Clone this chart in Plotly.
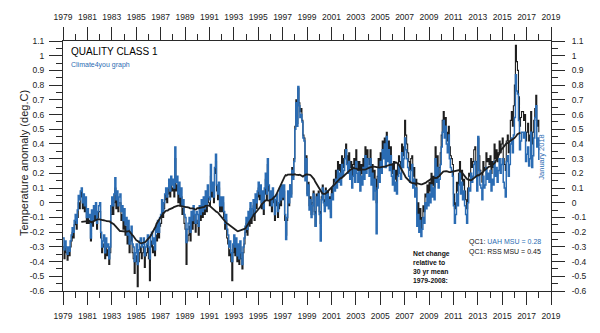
import plotly.graph_objects as go
import pandas as pd

# ---------------- data (monthly anomalies, deg C, rel. 1979-2008) ----------------
start_year = 1979

uah_values = [
    -0.24, -0.32, -0.26, -0.30, -0.35, -0.30, -0.33, -0.26, -0.22, -0.17, -0.20, -0.12,  # 1979
    -0.08, -0.14, -0.05, 0.05, 0.02, 0.08, 0.10, 0.00, 0.06, -0.02, 0.04, -0.10,          # 1980
    -0.04, -0.10, -0.08, -0.24, -0.05, -0.12, -0.02, -0.08, 0.00, -0.14, -0.06, -0.02,    # 1981
    0.00, -0.20, -0.30, -0.26, -0.22, -0.34, -0.24, -0.30, -0.28, -0.38, -0.30, -0.02,    # 1982
    0.04, -0.02, 0.06, 0.17, 0.02, 0.08, -0.02, 0.04, 0.06, -0.06, -0.02, -0.12,          # 1983
    -0.04, -0.15, -0.10, -0.22, -0.12, -0.28, -0.20, -0.16, -0.28, -0.30, -0.40, -0.34,   # 1984
    -0.28, -0.42, -0.32, -0.26, -0.24, -0.30, -0.28, -0.24, -0.36, -0.30, -0.28, -0.22,   # 1985
    -0.30, -0.38, -0.22, -0.20, -0.28, -0.24, -0.32, -0.16, -0.20, -0.12, -0.20, -0.10,   # 1986
    -0.08, 0.02, -0.06, 0.00, 0.06, 0.10, 0.04, 0.10, 0.16, 0.08, 0.18, 0.12,             # 1987
    0.16, 0.10, 0.38, 0.14, 0.18, 0.06, 0.14, 0.04, 0.10, -0.02, 0.02, -0.08,             # 1988
    -0.10, -0.27, -0.18, -0.14, -0.10, -0.20, -0.06, -0.12, -0.02, -0.08, -0.14, -0.06,   # 1989
    -0.08, -0.16, -0.02, -0.08, 0.02, -0.06, 0.04, -0.04, 0.08, -0.02, 0.12, 0.04,        # 1990
    0.02, 0.26, 0.08, 0.14, 0.04, 0.24, 0.33, 0.12, 0.06, 0.14, -0.02, 0.04,              # 1991
    -0.02, 0.04, -0.06, -0.14, -0.08, -0.18, -0.22, -0.30, -0.26, -0.34, -0.40, -0.28,    # 1992
    -0.22, -0.30, -0.24, -0.36, -0.28, -0.38, -0.26, -0.34, -0.42, -0.30, -0.24, -0.16,   # 1993
    -0.10, -0.18, -0.06, -0.12, 0.00, -0.10, -0.04, 0.02, -0.08, 0.06, 0.00, 0.08,        # 1994
    0.14, 0.06, 0.12, 0.00, 0.08, -0.04, 0.10, 0.20, 0.06, 0.30, 0.12, 0.02,              # 1995
    0.08, -0.02, 0.10, 0.04, -0.08, 0.02, 0.06, -0.06, 0.00, 0.10, 0.02, 0.12,            # 1996
    0.04, 0.12, -0.08, -0.25, -0.10, 0.08, 0.00, 0.12, 0.04, 0.22, 0.16, 0.28,            # 1997
    0.50, 0.68, 0.52, 0.79, 0.66, 0.58, 0.60, 0.55, 0.44, 0.42, 0.15, 0.30,               # 1998
    0.05, 0.12, -0.05, 0.02, -0.10, -0.02, 0.06, -0.08, -0.16, 0.04, -0.02, 0.06,         # 1999
    -0.08, -0.26, 0.02, 0.10, 0.00, -0.06, 0.08, -0.02, 0.06, -0.04, 0.02, -0.10,         # 2000
    0.06, 0.02, 0.12, 0.08, 0.16, 0.10, 0.22, 0.14, 0.20, 0.12, 0.26, 0.18,               # 2001
    0.22, 0.30, 0.36, 0.26, 0.20, 0.28, 0.16, 0.22, 0.10, 0.18, 0.24, 0.14,               # 2002
    0.28, 0.20, 0.14, 0.22, 0.08, 0.18, 0.12, 0.24, 0.16, 0.32, 0.20, 0.30,               # 2003
    0.24, 0.18, 0.30, 0.12, 0.20, 0.02, 0.16, 0.08, -0.21, 0.10, 0.24, 0.14,              # 2004
    0.28, 0.20, 0.36, 0.30, 0.40, 0.24, 0.45, 0.28, 0.36, 0.22, 0.32, 0.18,               # 2005
    0.12, 0.22, 0.08, 0.14, 0.06, 0.18, 0.26, 0.20, 0.16, 0.34, 0.24, 0.30,               # 2006
    0.44, 0.36, 0.30, 0.24, 0.18, 0.14, 0.22, 0.26, 0.10, 0.16, 0.04, 0.10,               # 2007
    -0.16, -0.08, -0.20, -0.12, -0.23, -0.18, -0.10, -0.14, 0.00, -0.04, 0.06, -0.02,     # 2008
    0.06, 0.00, 0.12, 0.04, 0.10, 0.02, 0.30, 0.14, 0.24, 0.10, 0.16, 0.26,               # 2009
    0.38, 0.48, 0.56, 0.44, 0.52, 0.40, 0.34, 0.46, 0.30, 0.24, 0.22, 0.18,               # 2010
    -0.02, -0.14, -0.08, 0.06, -0.02, 0.12, 0.20, 0.06, 0.14, 0.02, 0.08, -0.02,          # 2011
    -0.08, -0.14, 0.00, 0.10, 0.08, 0.20, 0.14, 0.18, 0.26, 0.28, 0.18, 0.08,             # 2012
    0.45, 0.22, 0.12, 0.10, 0.02, 0.18, 0.10, 0.12, 0.24, 0.16, 0.20, 0.14,               # 2013
    0.22, 0.08, 0.16, 0.12, 0.28, 0.18, 0.24, 0.14, 0.22, 0.30, 0.20, 0.26,               # 2014
    0.30, 0.14, 0.10, 0.04, 0.28, 0.32, 0.18, 0.26, 0.40, 0.44, 0.34, 0.46,               # 2015
    0.58, 0.87, 0.76, 0.74, 0.56, 0.36, 0.42, 0.48, 0.48, 0.44, 0.48, 0.28,               # 2016
    0.33, 0.38, 0.25, 0.30, 0.48, 0.24, 0.32, 0.44, 0.58, 0.66, 0.38, 0.44,               # 2017
    0.29,                                                                                 # 2018
]

rss_values = [
    -0.30, -0.38, -0.30, -0.34, -0.39, -0.33, -0.36, -0.30, -0.26, -0.20, -0.24, -0.15,  # 1979
    -0.12, -0.18, -0.10, 0.00, -0.04, 0.04, 0.08, -0.04, 0.02, -0.06, 0.00, -0.14,        # 1980
    -0.08, -0.14, -0.12, -0.26, -0.10, -0.16, -0.08, -0.12, -0.06, -0.18, -0.10, -0.06,   # 1981
    -0.06, -0.24, -0.34, -0.30, -0.28, -0.38, -0.30, -0.36, -0.32, -0.42, -0.34, -0.08,   # 1982
    -0.02, -0.08, 0.00, 0.10, -0.04, 0.02, -0.06, 0.00, 0.00, -0.12, -0.08, -0.18,        # 1983
    -0.10, -0.22, -0.16, -0.28, -0.18, -0.34, -0.26, -0.22, -0.34, -0.38, -0.48, -0.40,   # 1984
    -0.36, -0.57, -0.40, -0.34, -0.30, -0.38, -0.34, -0.30, -0.44, -0.36, -0.34, -0.28,   # 1985
    -0.38, -0.53, -0.30, -0.26, -0.34, -0.30, -0.36, -0.22, -0.26, -0.18, -0.24, -0.16,   # 1986
    -0.14, -0.04, -0.10, -0.04, 0.02, 0.06, 0.00, 0.06, 0.12, 0.04, 0.14, 0.08,           # 1987
    0.10, 0.04, 0.30, 0.08, 0.12, 0.00, 0.08, -0.02, 0.04, -0.08, -0.04, -0.14,           # 1988
    -0.18, -0.42, -0.26, -0.22, -0.16, -0.26, -0.12, -0.18, -0.08, -0.14, -0.20, -0.12,   # 1989
    -0.14, -0.22, -0.08, -0.12, -0.02, -0.10, 0.00, -0.08, 0.04, -0.06, 0.08, 0.00,       # 1990
    -0.02, 0.18, 0.04, 0.10, 0.00, 0.20, 0.28, 0.08, 0.02, 0.10, -0.06, 0.00,             # 1991
    -0.06, 0.00, -0.10, -0.18, -0.12, -0.24, -0.28, -0.36, -0.32, -0.40, -0.53, -0.34,    # 1992
    -0.28, -0.36, -0.30, -0.40, -0.32, -0.42, -0.30, -0.38, -0.45, -0.34, -0.28, -0.20,   # 1993
    -0.14, -0.22, -0.10, -0.16, -0.04, -0.14, -0.08, -0.02, -0.12, 0.02, -0.04, 0.04,     # 1994
    0.10, 0.02, 0.08, -0.04, 0.04, -0.08, 0.06, 0.16, 0.02, 0.26, 0.08, -0.02,            # 1995
    0.04, -0.06, 0.06, 0.00, -0.12, -0.02, 0.02, -0.10, -0.04, 0.06, -0.02, 0.08,         # 1996
    0.02, 0.08, -0.12, -0.22, -0.12, 0.06, -0.02, 0.12, 0.06, 0.24, 0.18, 0.30,           # 1997
    0.52, 0.70, 0.54, 0.78, 0.68, 0.62, 0.64, 0.56, 0.46, 0.44, 0.20, 0.32,               # 1998
    0.06, 0.14, -0.02, 0.04, -0.08, 0.00, 0.08, -0.06, -0.16, 0.06, 0.00, 0.08,           # 1999
    -0.06, -0.14, 0.04, 0.12, 0.02, -0.02, 0.10, 0.02, 0.08, 0.00, 0.04, -0.06,           # 2000
    0.10, 0.06, 0.16, 0.14, 0.22, 0.16, 0.28, 0.22, 0.26, 0.18, 0.32, 0.24,               # 2001
    0.30, 0.36, 0.40, 0.32, 0.26, 0.34, 0.24, 0.28, 0.18, 0.26, 0.30, 0.22,               # 2002
    0.36, 0.28, 0.22, 0.28, 0.16, 0.26, 0.20, 0.30, 0.24, 0.38, 0.28, 0.36,               # 2003
    0.30, 0.26, 0.36, 0.20, 0.26, 0.12, 0.22, 0.16, 0.00, 0.18, 0.30, 0.22,               # 2004
    0.34, 0.28, 0.42, 0.36, 0.44, 0.32, 0.48, 0.36, 0.42, 0.30, 0.38, 0.26,               # 2005
    0.20, 0.28, 0.16, 0.22, 0.14, 0.26, 0.32, 0.28, 0.24, 0.40, 0.32, 0.38,               # 2006
    0.56, 0.46, 0.40, 0.34, 0.28, 0.22, 0.30, 0.32, 0.18, 0.24, 0.12, 0.16,               # 2007
    -0.08, 0.00, -0.14, -0.04, -0.18, -0.10, -0.02, -0.06, 0.06, 0.04, 0.12, 0.04,        # 2008
    0.14, 0.08, 0.20, 0.12, 0.18, 0.10, 0.38, 0.22, 0.32, 0.18, 0.24, 0.34,               # 2009
    0.46, 0.56, 0.62, 0.52, 0.58, 0.48, 0.42, 0.52, 0.38, 0.32, 0.30, 0.26,               # 2010
    0.06, -0.04, 0.00, 0.14, 0.08, 0.20, 0.28, 0.16, 0.22, 0.12, 0.16, 0.08,              # 2011
    0.02, -0.04, 0.10, 0.20, 0.18, 0.30, 0.24, 0.28, 0.36, 0.38, 0.28, 0.18,              # 2012
    0.44, 0.32, 0.22, 0.20, 0.14, 0.28, 0.22, 0.24, 0.34, 0.28, 0.30, 0.26,               # 2013
    0.32, 0.20, 0.28, 0.24, 0.40, 0.30, 0.36, 0.28, 0.34, 0.42, 0.34, 0.40,               # 2014
    0.44, 0.30, 0.26, 0.22, 0.42, 0.46, 0.34, 0.42, 0.56, 0.62, 0.52, 0.66,               # 2015
    0.80, 1.07, 0.96, 0.90, 0.72, 0.52, 0.58, 0.62, 0.62, 0.56, 0.60, 0.42,               # 2016
    0.48, 0.54, 0.42, 0.46, 0.62, 0.40, 0.48, 0.56, 0.64, 0.73, 0.52, 0.56,               # 2017
    0.48,                                                                                 # 2018
]

x_tick_vals = list(range(1979, 2020, 2))
x_tick_text = [str(v) for v in x_tick_vals]
y_tick_vals = [round(-0.6 + 0.1 * i, 1) for i in range(18)]
y_tick_text = ["-0.6", "-0.5", "-0.4", "-0.3", "-0.2", "-0.1", "0", "0.1", "0.2",
               "0.3", "0.4", "0.5", "0.6", "0.7", "0.8", "0.9", "1", "1.1"]

# ---------------- derived ----------------
t = [start_year + i / 12.0 for i in range(len(uah_values))]
avg = (pd.Series(uah_values) + pd.Series(rss_values)) / 2.0
running = avg.rolling(37, center=True).mean()

BLUE = "#2b6cb3"
BLACK = "#1e1e1e"
AX = "#2a2a2a"
FONT = "Liberation Sans, Arial, sans-serif"

fig = go.Figure()
fig.add_trace(go.Scatter(x=t, y=rss_values, mode="lines", line=dict(color=BLACK, width=1.1, shape="hv"),
                         hoverinfo="skip", showlegend=False))
fig.add_trace(go.Scatter(x=t, y=uah_values, mode="lines", line=dict(color=BLUE, width=1.5, shape="hv"),
                         hoverinfo="skip", showlegend=False))
fig.add_trace(go.Scatter(x=t, y=running, mode="lines", line=dict(color=BLACK, width=1.8),
                         hoverinfo="skip", showlegend=False))
# invisible trace to activate the mirrored axes
fig.add_trace(go.Scatter(x=[t[0]], y=[uah_values[0]], xaxis="x2", yaxis="y2", mode="markers",
                         marker=dict(opacity=0), hoverinfo="skip", showlegend=False))

xcommon = dict(range=[1979, 2019], tickmode="array", tickvals=x_tick_vals, ticktext=x_tick_text,
               ticks="outside", ticklen=13, tickwidth=1, tickcolor=AX,
               minor=dict(tickmode="linear", tick0=1979, dtick=1, ticks="outside", ticklen=6,
                          tickwidth=1, tickcolor=AX, showgrid=False),
               showgrid=False, zeroline=False, showline=True, linecolor=AX, linewidth=1,
               tickfont=dict(family=FONT, size=8.5, color="#222"), fixedrange=True)
ycommon = dict(range=[-0.6, 1.1], tickmode="array", tickvals=y_tick_vals, ticktext=y_tick_text,
               ticks="outside", ticklen=13, tickwidth=1, tickcolor=AX,
               minor=dict(tickmode="linear", tick0=0, dtick=0.05, ticks="outside", ticklen=6,
                          tickwidth=1, tickcolor=AX, showgrid=False),
               showgrid=False, zeroline=False, showline=True, linecolor=AX, linewidth=1,
               tickfont=dict(family=FONT, size=8.5, color="#222"), fixedrange=True)

fig.update_layout(
    width=600, height=333,
    margin=dict(l=63, r=49, t=37, b=40, pad=0),
    paper_bgcolor="white", plot_bgcolor="white",
    xaxis=dict(side="bottom", anchor="y", ticklabelstandoff=4, **xcommon),
    xaxis2=dict(side="top", anchor="y", overlaying="x", matches="x", ticklabelstandoff=4, **xcommon),
    yaxis=dict(side="left", anchor="x", ticklabelstandoff=3, **ycommon),
    yaxis2=dict(side="right", anchor="x", overlaying="y", matches="y", ticklabelstandoff=5, **ycommon),
    showlegend=False,
)

def px(xp):
    return (xp - 63) / 488.0

def py(yp):
    return (293 - yp) / 256.0

ann = [
    dict(text="Temperature anomaly (deg.C)", x=px(16), y=py(162), textangle=-90,
         font=dict(family=FONT, size=11, color="#222")),
    dict(text="QUALITY CLASS 1", x=px(69), y=py(47.5), xanchor="left",
         font=dict(family=FONT, size=10, color="#000")),
    dict(text="Climate4you graph", x=px(69), y=py(61.5), xanchor="left",
         font=dict(family=FONT, size=7, color=BLUE)),
    dict(text="January 2018", x=px(548), y=py(156), textangle=-90,
         font=dict(family=FONT, size=7.5, color=BLUE)),
    dict(text="QC1: <span style='color:%s'>UAH MSU = 0.28</span>" % BLUE, x=px(543), y=py(243),
         xanchor="right", font=dict(family=FONT, size=7, color="#111")),
    dict(text="QC1: RSS MSU = 0.45", x=px(543), y=py(253), xanchor="right",
         font=dict(family=FONT, size=7, color="#111")),
    dict(text="<b>Net change<br>relative to<br>30 yr mean<br>1979-2008:</b>", x=px(411), y=py(249),
         xanchor="left", yanchor="top", align="left",
         font=dict(family=FONT, size=6.8, color="#111")),
]
for a in ann:
    a.update(xref="paper", yref="paper", showarrow=False)
    if "yanchor" not in a:
        a["yanchor"] = "middle"
fig.update_layout(annotations=ann)

fig.write_html("out.html")
